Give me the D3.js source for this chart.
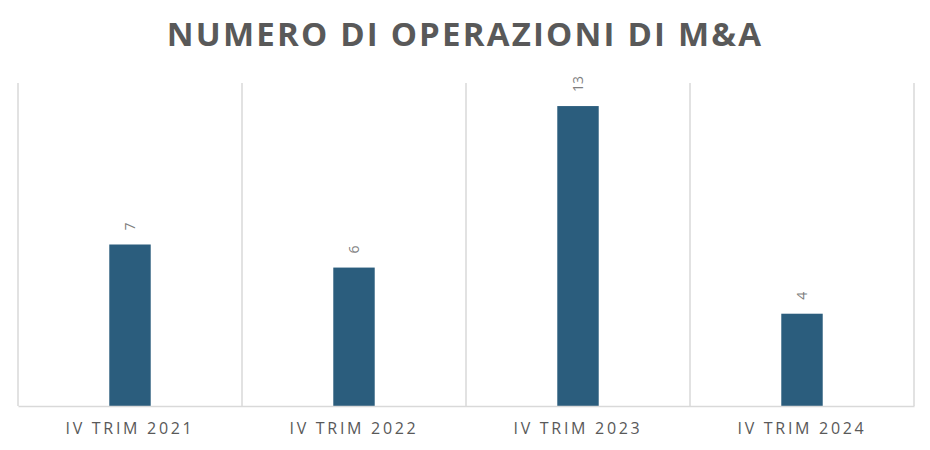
<!DOCTYPE html>
<html><head><meta charset="utf-8">
<script src="https://cdn.jsdelivr.net/npm/d3@7"></script>
<style>body{margin:0;background:#fff}svg{display:block}</style>
</head><body>
<script>
const categories = ["IV TRIM 2021","IV TRIM 2022","IV TRIM 2023","IV TRIM 2024"];
const values = [7, 6, 13, 4];
const title = "NUMERO DI OPERAZIONI DI M&A";

const W = 930, H = 450;
const m = {left:18, right:16, top:83, bottom:44};
const svg = d3.select("body").append("svg").attr("width",W).attr("height",H);

const x = d3.scaleBand().domain(categories).range([m.left, W-m.right]).paddingInner(0).paddingOuter(0);
const y = d3.scaleLinear().domain([0,14]).range([H-m.bottom, m.top]);

svg.append("text").attr("x",W/2).attr("y",46).attr("text-anchor","middle")
  .attr("font-family","Open Sans, sans-serif").attr("font-weight","bold").attr("font-size",33)
  .attr("letter-spacing",2.2).attr("fill","#595959").text(title);

// vertical gridlines at category boundaries
const bounds = categories.map(c=>x(c)).concat([x(categories[categories.length-1])+x.bandwidth()]);
svg.selectAll("line.grid").data(bounds).join("line").attr("class","grid")
  .attr("x1",d=>d).attr("x2",d=>d).attr("y1",y(14)).attr("y2",y(0))
  .attr("stroke","#d9d9d9").attr("stroke-width",1.5);

const bw = x.bandwidth()*0.185;
svg.selectAll("rect.bar").data(values).join("rect").attr("class","bar")
  .attr("x",(d,i)=>x(categories[i])+x.bandwidth()/2-bw/2).attr("width",bw)
  .attr("y",d=>y(d)).attr("height",d=>y(0)-y(d)).attr("fill","#2b5d7d");

svg.selectAll("text.lbl").data(values).join("text").attr("class","lbl")
  .attr("transform",(d,i)=>`translate(${x(categories[i])+x.bandwidth()/2+5},${y(d)-14}) rotate(-90)`)
  .attr("text-anchor","start").attr("font-family","Open Sans, sans-serif").attr("font-size",14)
  .attr("fill","#7f7f7f").text(d=>d);

// baseline axis
const ax = svg.append("g").attr("transform",`translate(0,${y(0)})`)
  .call(d3.axisBottom(x).tickSize(0).tickPadding(17));
ax.select(".domain").attr("stroke","#d9d9d9").attr("stroke-width",1.5);
ax.selectAll("text").attr("font-family","Open Sans, sans-serif").attr("font-size",16)
  .attr("letter-spacing",2.7).attr("fill","#595959");
</script>
</body></html>
